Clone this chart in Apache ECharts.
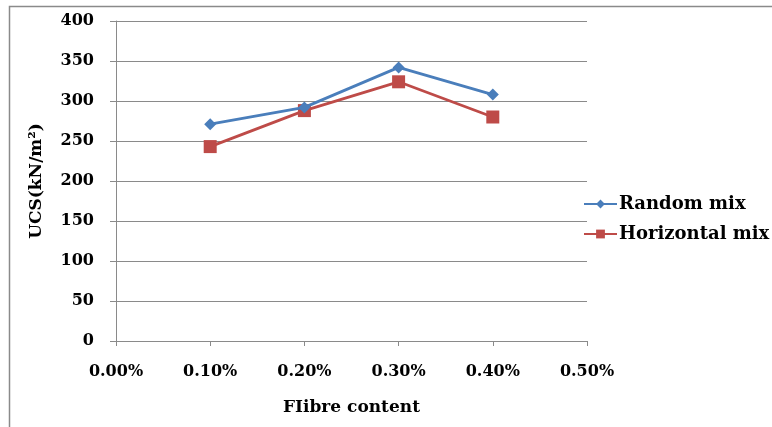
<!DOCTYPE html>
<html>
<head>
<meta charset="utf-8">
<script src="https://cdn.jsdelivr.net/npm/echarts@6/dist/echarts.min.js"></script>
<style>html,body{margin:0;padding:0;background:#fff}#c{width:772px;height:427px}</style>
</head>
<body>
<div id="c"></div>
<script>
const categories = ['0.00%', '0.10%', '0.20%', '0.30%', '0.40%', '0.50%'];
const randomMix = [null, 271, 292, 342, 308, null];
const horizontalMix = [null, 243, 288, 324, 280, null];
const seriesNames = ['Random mix', 'Horizontal mix'];
const xTitle = 'FIibre content';
const yTitle = 'UCS(kN/m²)';

const FONT = 'DejaVu Serif';
const chart = echarts.init(document.getElementById('c'), null, {renderer: 'canvas'});
chart.setOption({
  animation: false,
  backgroundColor: '#fff',
  graphic: [{
    type: 'polyline', silent: true,
    shape: {points: [[9.5, 440], [9.5, 6.5], [790, 6.5]]},
    style: {fill: null, stroke: '#8a8a8a', lineWidth: 1.5}
  }],
  grid: {left: 116, right: 185, top: 21, bottom: 86},
  legend: {
    data: seriesNames,
    orient: 'vertical',
    left: 578, top: 190,
    itemWidth: 33, itemHeight: 11, itemGap: 12,
    textStyle: {fontFamily: FONT, fontWeight: 'bold', fontSize: 18, color: '#000', padding: [0, 0, 0, -3]}
  },
  xAxis: {
    type: 'category',
    data: categories,
    boundaryGap: false,
    name: xTitle,
    nameLocation: 'middle',
    nameGap: 58,
    nameTextStyle: {fontFamily: FONT, fontWeight: 'bold', fontSize: 17, color: '#000'},
    axisLine: {lineStyle: {color: '#8a8a8a', width: 1}},
    axisTick: {show: true, length: 5, lineStyle: {color: '#8a8a8a'}},
    axisLabel: {fontFamily: FONT, fontWeight: 'bold', fontSize: 16, color: '#000', margin: 23},
    splitLine: {show: false}
  },
  yAxis: {
    type: 'value',
    min: 0, max: 400, interval: 50,
    name: yTitle,
    nameLocation: 'middle',
    nameGap: 71,
    nameRotate: 90,
    nameTextStyle: {fontFamily: FONT, fontWeight: 'bold', fontSize: 17, color: '#000'},
    axisLine: {show: true, lineStyle: {color: '#8a8a8a', width: 1}},
    axisTick: {show: true, length: 6, lineStyle: {color: '#8a8a8a'}},
    axisLabel: {fontFamily: FONT, fontWeight: 'bold', fontSize: 16, color: '#000', margin: 22},
    splitLine: {show: true, lineStyle: {color: '#8a8a8a', width: 1}}
  },
  series: [{
    name: seriesNames[0],
    type: 'line',
    data: randomMix,
    symbol: 'diamond',
    symbolSize: 12,
    itemStyle: {color: '#4a7ebb'},
    lineStyle: {color: '#4a7ebb', width: 2.8},
    z: 3
  }, {
    name: seriesNames[1],
    type: 'line',
    data: horizontalMix,
    symbol: 'rect',
    symbolSize: 13,
    itemStyle: {color: '#be4b48'},
    lineStyle: {color: '#be4b48', width: 2.8},
    z: 2
  }]
});
</script>
</body>
</html>
